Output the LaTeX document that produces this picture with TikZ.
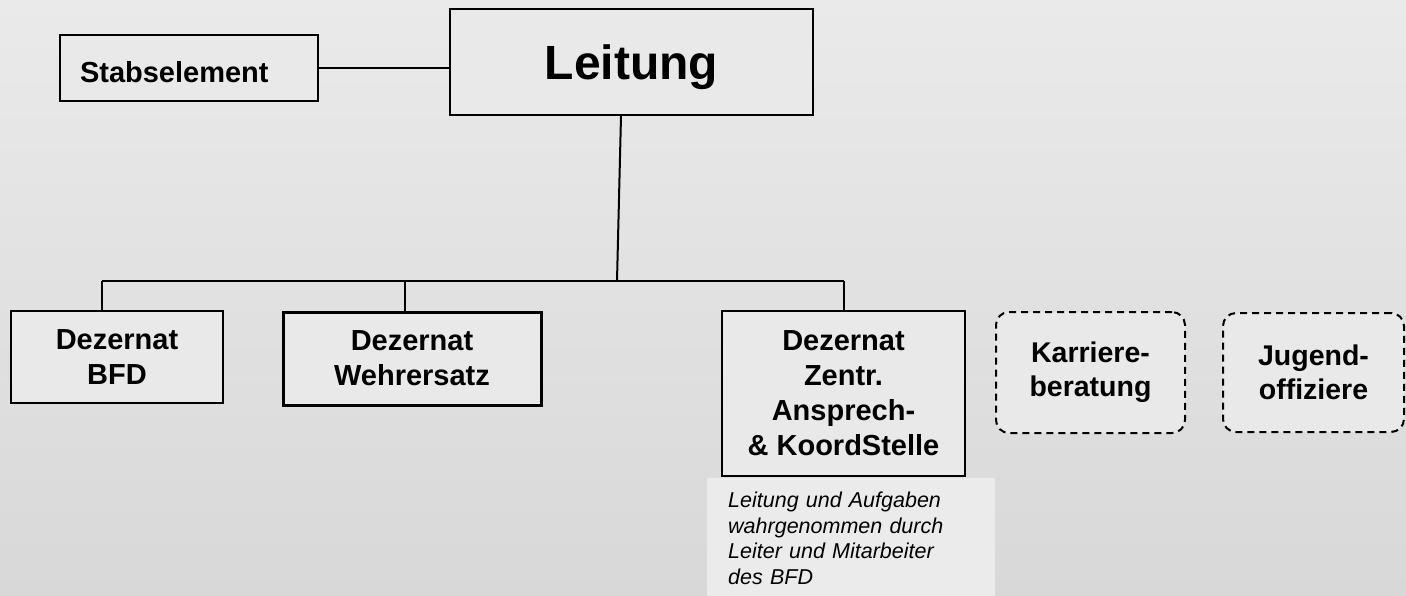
\documentclass[tikz,border=0pt]{standalone}
\usepackage{fontspec}
\setmainfont{Liberation Sans}
\definecolor{bgtop}{HTML}{EAEAEA}
\definecolor{bgmid}{HTML}{E5E5E5}
\definecolor{bgbot}{HTML}{D8D8D8}
\definecolor{boxfill}{HTML}{E9E9E9}
\definecolor{notefill}{HTML}{EBEBEB}
\begin{document}
\begin{tikzpicture}[x=1pt,y=-1pt,
  box/.style={draw=black, line width=2pt, fill=boxfill, align=center, inner sep=0pt,
    font=\bfseries\fontsize{29}{35}\selectfont},
  dbox/.style={box, dash pattern=on 7pt off 5pt, rounded corners=13pt,
    font=\bfseries\fontsize{28.5}{34}\selectfont},
  note/.style={fill=notefill, draw=none, align=left, inner xsep=21pt, inner ysep=14pt,
    text width=246pt, font=\itshape\fontsize{21.5}{25.5}\selectfont},
  conn/.style={draw=black, line width=2pt},
]
\shade[top color=bgtop, middle color=bgmid, bottom color=bgbot] (0,0) rectangle (1406,595);
\useasboundingbox (0,0) rectangle (1406,595);

\node[box, align=left, text width=218pt, inner xsep=20pt, minimum height=66pt, text height=28pt, text depth=0pt] (stab) at (189,68) {Stabselement};
\node[box, font=\bfseries\fontsize{48}{56}\selectfont, minimum width=363pt, minimum height=106pt, text depth=0pt] (leit) at (631.5,62) {Leitung};

\node[box, minimum width=212pt, minimum height=92pt] (bfd) at (117,357) {Dezernat\\BFD};
\node[box, line width=3pt, minimum width=258pt, minimum height=93pt] (wehr) at (412,358.5) {Dezernat\\Wehrersatz};
\node[box, minimum width=243pt, minimum height=165pt] (zentr) at (843.5,393.5) {Dezernat\\Zentr.\\Ansprech-\\\& KoordStelle};
\node[dbox, minimum width=189pt, minimum height=121pt] (karr) at (1090.5,372.5) {Karriere-\\beratung};
\node[dbox, minimum width=181pt, minimum height=119pt] (jug) at (1313.5,372.5) {Jugend-\\offiziere};

\node[note, anchor=north west] (note) at (707,478) {Leitung und Aufgaben\\wahrgenommen durch\\Leiter und Mitarbeiter\\des BFD};

\coordinate (ttop) at (621,115);
\coordinate (tb) at (617,281);
\coordinate (b1) at (102,281);
\coordinate (b2) at (405,281);
\coordinate (b3) at (844,281);

\draw[conn] (stab.east) -- (stab.east -| leit.west);
\draw[conn] (leit.south -| ttop) -- (tb);
\draw[conn] (b1) -- (b3);
\draw[conn] (b1) -- (b1 |- bfd.north);
\draw[conn] (b2) -- (b2 |- wehr.north);
\draw[conn] (b3) -- (b3 |- zentr.north);
\end{tikzpicture}
\end{document}
